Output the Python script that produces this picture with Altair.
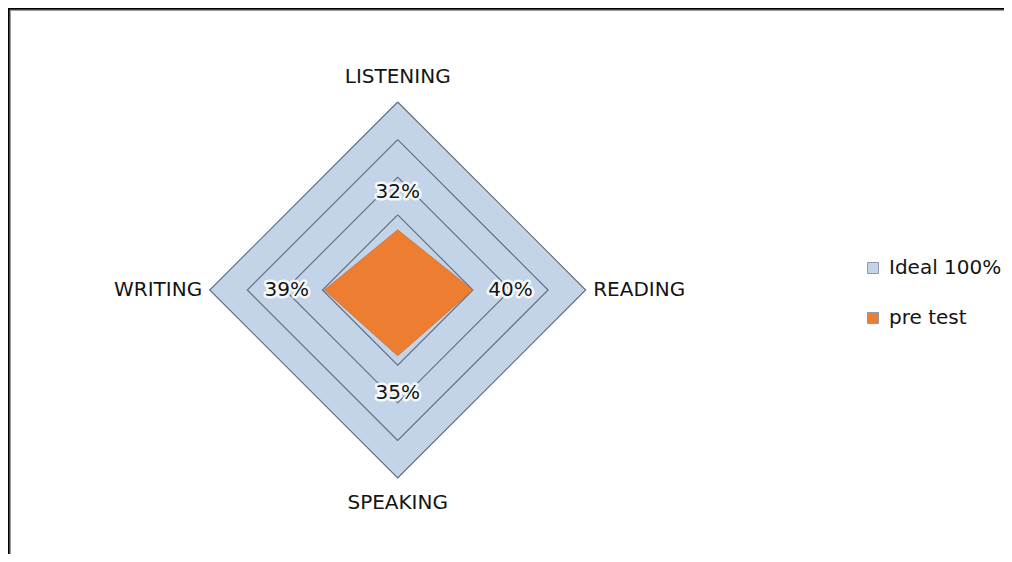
import altair as alt
import pandas as pd
import math

# ---- data ----
CATEGORIES = ["LISTENING", "READING", "SPEAKING", "WRITING"]   # clockwise from top
IDEAL = [100, 100, 100, 100]
PRE_TEST = [32, 40, 35, 39]
PRE_LABELS = ["32%", "40%", "35%", "39%"]
RINGS = [20, 40, 60, 80, 100]
SERIES = ["Ideal 100%", "pre test"]

# ---- styling ----
BLUE = "#C3D3E8"
ORANGE = "#ED7D31"
GRID = "#5F6B7B"
TEXT = "#141414"
FONT = "DejaVu Sans"
FS = 20

W, H = 996, 546
PX_PER_UNIT = 1.88
CX, CY = 389.7, 282.0  # centre of the radar inside the plot area (px)
XDOM = [-CX / PX_PER_UNIT, (W - CX) / PX_PER_UNIT]
YDOM = [-(H - CY) / PX_PER_UNIT, CY / PX_PER_UNIT]

ANGLES = [math.pi / 2 - i * math.pi / 2 for i in range(len(CATEGORIES))]


def polar(r, a):
    return r * math.cos(a), r * math.sin(a)


def diamond_rows(values, series):
    top, right, bottom, left = values
    return [
        {"series": series, "x": -left, "y": 0, "y2": 0},
        {"series": series, "x": 0, "y": top, "y2": -bottom},
        {"series": series, "x": right, "y": 0, "y2": 0},
    ]


area_df = pd.DataFrame(diamond_rows(IDEAL, SERIES[0]) + diamond_rows(PRE_TEST, SERIES[1]))

ring_rows = []
for r in RINGS:
    for i in range(len(CATEGORIES) + 1):
        a = ANGLES[i % len(CATEGORIES)]
        x, y = polar(r, a)
        ring_rows.append({"ring": r, "o": i, "x": x, "y": y})
ring_df = pd.DataFrame(ring_rows)

LABEL_OFFSET = 20  # value units outward from the point
lab_rows = []
for c, v, t, a in zip(CATEGORIES, PRE_TEST, PRE_LABELS, ANGLES):
    x, y = polar(v + LABEL_OFFSET, a)
    lab_rows.append({"cat": c, "label": t, "x": x, "y": y})
lab_df = pd.DataFrame(lab_rows)

CAT_R_VERT = 113.5
CAT_R_SIDE = 104.0
cat_rows = []
for c, a in zip(CATEGORIES, ANGLES):
    side = abs(math.cos(a)) > 0.5
    x, y = polar(CAT_R_SIDE if side else CAT_R_VERT, a)
    pos = "center" if not side else ("left" if x > 0 else "right")
    cat_rows.append({"cat": c, "x": x, "y": y, "pos": pos})
cat_df = pd.DataFrame(cat_rows)

xs = alt.Scale(domain=XDOM, nice=False, zero=False)
ys = alt.Scale(domain=YDOM, nice=False, zero=False)
X = alt.X("x:Q", scale=xs, axis=None)
Y = alt.Y("y:Q", scale=ys, axis=None)
YA = alt.Y("y:Q", scale=ys, axis=None, stack=None)

color = alt.Color(
    "series:N",
    scale=alt.Scale(domain=SERIES, range=[BLUE, ORANGE]),
    legend=alt.Legend(
        title=None,
        orient="none",
        legendX=855,
        legendY=250,
        symbolType="square",
        symbolSize=121,
        symbolStrokeWidth=1,
        symbolStrokeColor="#8E9AAA",
        labelFont=FONT,
        labelFontSize=FS,
        labelColor=TEXT,
        labelOffset=6,
        rowPadding=30,
        labelLimit=300,
    ),
)

ideal_area = (
    alt.Chart(area_df)
    .transform_filter(alt.datum.series == SERIES[0])
    .mark_area(opacity=1, interpolate="linear")
    .encode(x=X, y=YA, y2="y2:Q", color=color)
)

rings = (
    alt.Chart(ring_df)
    .mark_line(color=GRID, strokeWidth=1.1)
    .encode(x=X, y=Y, detail="ring:N", order="o:Q")
)

pre_area = (
    alt.Chart(area_df)
    .transform_filter(alt.datum.series == SERIES[1])
    .mark_area(opacity=1, interpolate="linear", stroke="#C9652A", strokeWidth=0.6)
    .encode(x=X, y=YA, y2="y2:Q", color=color)
)

halo = (
    alt.Chart(lab_df)
    .mark_text(font=FONT, fontSize=FS, stroke="white", strokeWidth=5, strokeOpacity=0.85,
               strokeJoin="round", fill="white", align="center", baseline="middle")
    .encode(x=X, y=Y, text="label:N")
)
labels = (
    alt.Chart(lab_df)
    .mark_text(font=FONT, fontSize=FS, color=TEXT, align="center", baseline="middle")
    .encode(x=X, y=Y, text="label:N")
)

cat_layers = []
for pos in ["center", "left", "right"]:
    cat_layers.append(
        alt.Chart(cat_df)
        .transform_filter(alt.datum.pos == pos)
        .mark_text(font=FONT, fontSize=FS, color=TEXT, align=pos, baseline="middle")
        .encode(x=X, y=Y, text="cat:N")
    )

frame_top = alt.Chart(pd.DataFrame({"a": [0]})).mark_rule(color="black", strokeWidth=2.5).encode(
    x=alt.value(0), x2=alt.value(W), y=alt.value(0.5)
)
frame_top2 = alt.Chart(pd.DataFrame({"a": [0]})).mark_rule(color="#9A9A9A", strokeWidth=1).encode(
    x=alt.value(2), x2=alt.value(W), y=alt.value(2.5)
)
frame_left = alt.Chart(pd.DataFrame({"a": [0]})).mark_rule(color="black", strokeWidth=2.5).encode(
    x=alt.value(0.5), y=alt.value(0), y2=alt.value(H)
)
frame_left2 = alt.Chart(pd.DataFrame({"a": [0]})).mark_rule(color="#9A9A9A", strokeWidth=1).encode(
    x=alt.value(2.5), y=alt.value(2), y2=alt.value(H)
)

chart = (
    alt.layer(ideal_area, rings, pre_area, halo, labels, *cat_layers,
              frame_top, frame_top2, frame_left, frame_left2)
    .properties(width=W, height=H, padding=0, autosize=alt.AutoSizeParams(type="none"))
    .configure_view(stroke=None)
    .configure(background="white")
)

chart.save("out.html", embed_options={"renderer": "svg", "actions": False})
